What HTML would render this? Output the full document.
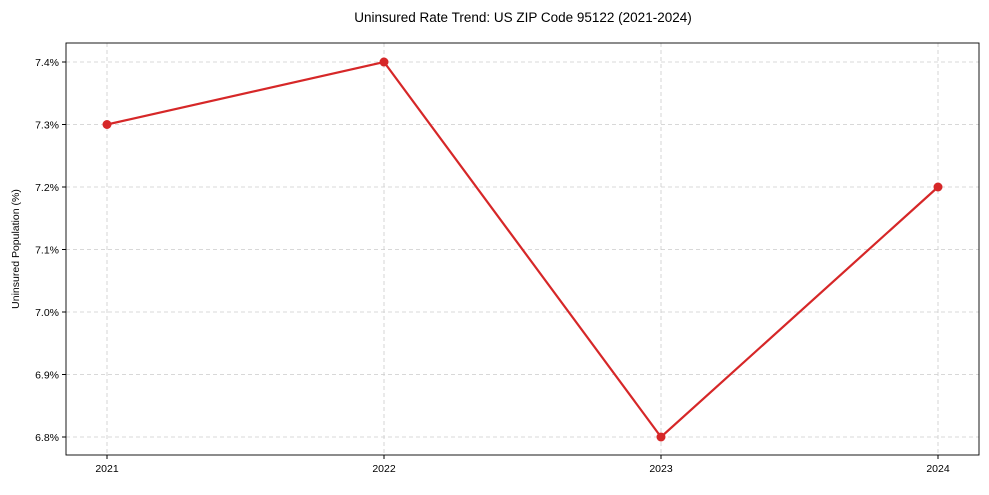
<!DOCTYPE html>
<html><head><style>body{margin:0;background:#fff}</style></head><body>
<svg width="989" height="490" xmlns="http://www.w3.org/2000/svg" font-family="Liberation Sans, sans-serif" font-size="10.5">
<rect width="989" height="490" fill="#fff"/>
<text x="523" y="22" text-anchor="middle" font-size="13.5">Uninsured Rate Trend: US ZIP Code 95122 (2021-2024)</text>
<g stroke="#ccc" stroke-dasharray="4,3" stroke-width="0.8">
<line x1="66" x2="979" y1="62" y2="62"/><line x1="66" x2="979" y1="124.5" y2="124.5"/><line x1="66" x2="979" y1="187" y2="187"/><line x1="66" x2="979" y1="249.5" y2="249.5"/><line x1="66" x2="979" y1="312" y2="312"/><line x1="66" x2="979" y1="374.5" y2="374.5"/><line x1="66" x2="979" y1="437" y2="437"/>
<line x1="107" x2="107" y1="43" y2="455"/><line x1="384" x2="384" y1="43" y2="455"/><line x1="661" x2="661" y1="43" y2="455"/><line x1="938" x2="938" y1="43" y2="455"/>
</g>
<rect x="66" y="43" width="913" height="412" fill="none" stroke="#000" stroke-width="0.9"/>
<g stroke="#000"><line x1="62" x2="66" y1="62" y2="62"/><line x1="62" x2="66" y1="124.5" y2="124.5"/><line x1="62" x2="66" y1="187" y2="187"/><line x1="62" x2="66" y1="249.5" y2="249.5"/><line x1="62" x2="66" y1="312" y2="312"/><line x1="62" x2="66" y1="374.5" y2="374.5"/><line x1="62" x2="66" y1="437" y2="437"/>
<line x1="107" x2="107" y1="455" y2="459"/><line x1="384" x2="384" y1="455" y2="459"/><line x1="661" x2="661" y1="455" y2="459"/><line x1="938" x2="938" y1="455" y2="459"/></g>
<g text-anchor="end"><text x="59" y="66">7.4%</text><text x="59" y="128.5">7.3%</text><text x="59" y="191">7.2%</text><text x="59" y="253.5">7.1%</text><text x="59" y="316">7.0%</text><text x="59" y="378.5">6.9%</text><text x="59" y="441">6.8%</text></g>
<g text-anchor="middle"><text x="107" y="472">2021</text><text x="384" y="472">2022</text><text x="661" y="472">2023</text><text x="938" y="472">2024</text></g>
<text transform="translate(19,249) rotate(-90)" text-anchor="middle">Uninsured Population (%)</text>
<polyline points="107,124.5 384,62 661,437 938,187" fill="none" stroke="#d62728" stroke-width="2.2"/>
<g fill="#d62728"><circle cx="107" cy="124.5" r="4.5"/><circle cx="384" cy="62" r="4.5"/><circle cx="661" cy="437" r="4.5"/><circle cx="938" cy="187" r="4.5"/></g>
</svg>
</body></html>
